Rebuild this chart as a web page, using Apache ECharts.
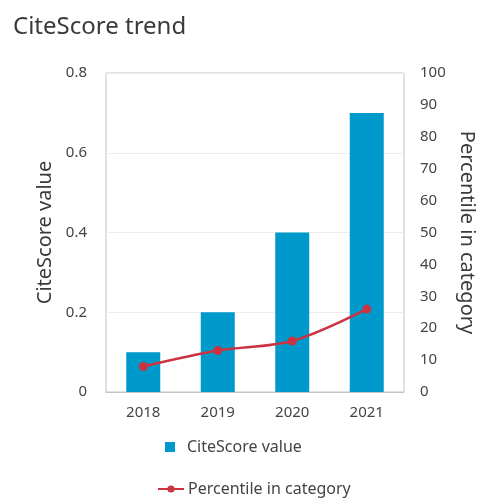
<!DOCTYPE html>
<html>
<head>
<meta charset="utf-8">
<script src="https://cdn.jsdelivr.net/npm/echarts@6/dist/echarts.min.js"></script>
<style>
html,body{margin:0;padding:0;background:#fff;}
#chart{width:479px;height:498px;}
</style>
</head>
<body>
<div id="chart"></div>
<script>
var years = ['2018', '2019', '2020', '2021'];
var citeScore = [0.1, 0.2, 0.4, 0.7];
var percentile = [8, 13, 16, 26];

var font = 'Noto Sans';
var chart = echarts.init(document.getElementById('chart'));
chart.setOption({
  animation: false,
  backgroundColor: '#fff',
  title: {
    text: 'CiteScore trend',
    left: 8, top: 10,
    textStyle: { fontFamily: font, fontSize: 24, fontWeight: 'normal', color: '#3a3a3a' }
  },
  legend: [{
    data: ['CiteScore value'],
    left: 160, top: 434,
    itemWidth: 10, itemHeight: 10,
    icon: 'rect',
    textStyle: { fontFamily: font, fontSize: 16, color: '#444', padding: [0, 0, 0, 7] }
  }, {
    data: ['Percentile in category'],
    left: 152, top: 476,
    itemWidth: 26, itemHeight: 9,
    itemGap: 4,
    textStyle: { fontFamily: font, fontSize: 16, color: '#444', padding: [0, 0, 0, -1] }
  }],
  grid: {
    left: 106, right: 75, top: 73, bottom: 106,
    outerBoundsMode: 'none',
    containLabel: false,
    show: true, borderColor: '#c4c4c4', borderWidth: 1
  },
  xAxis: {
    type: 'category',
    data: years,
    axisLine: { show: true, lineStyle: { color: '#c4c4c4' } },
    axisTick: { show: false },
    axisLabel: { fontFamily: font, fontSize: 15, color: '#444', margin: 13 }
  },
  yAxis: [{
    type: 'value',
    min: 0, max: 0.8, interval: 0.2,
    name: 'CiteScore value',
    nameLocation: 'middle',
    nameGap: 42,
    nameTextStyle: { fontFamily: font, fontSize: 20, color: '#3a3a3a' },
    axisLine: { show: false },
    axisTick: { show: false },
    axisLabel: { fontFamily: font, fontSize: 15, color: '#444', margin: 19 },
    splitLine: { lineStyle: { color: '#ececec' } }
  }, {
    type: 'value',
    min: 0, max: 100, interval: 10,
    position: 'right',
    name: 'Percentile in category',
    nameLocation: 'middle',
    nameRotate: -90,
    nameGap: 51,
    nameTextStyle: { fontFamily: font, fontSize: 20, color: '#3a3a3a' },
    axisLine: { show: false },
    axisTick: { show: false },
    axisLabel: { fontFamily: font, fontSize: 15, color: '#444', margin: 16 },
    splitLine: { show: false }
  }],
  series: [{
    name: 'CiteScore value',
    type: 'bar',
    data: citeScore,
    barWidth: 34,
    itemStyle: { color: '#0099cc' }
  }, {
    name: 'Percentile in category',
    type: 'line',
    yAxisIndex: 1,
    data: percentile,
    smooth: 0.3,
    symbol: 'circle',
    symbolSize: 9,
    lineStyle: { color: '#cc3340', width: 2.5 },
    itemStyle: { color: '#cc3340' }
  }]
});
</script>
</body>
</html>
